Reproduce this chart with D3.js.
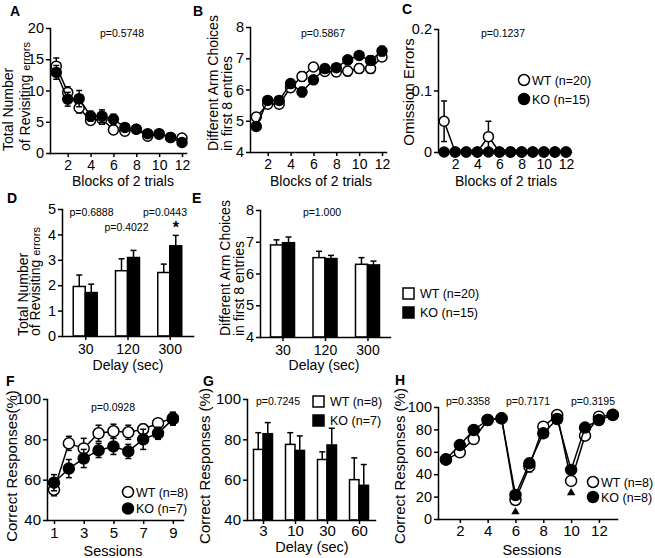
<!DOCTYPE html>
<html>
<head>
<meta charset="utf-8">
<script src="https://cdn.jsdelivr.net/npm/d3@7"></script>
<style>
body { margin: 0; background: #fff; }
svg { display: block; font-family: "Liberation Sans", Arial, sans-serif; }
</style>
</head>
<body>
<svg id="fig" width="655" height="558"></svg>
<script>
// ---- A/B/C : blocks of 2 trials
const blocks = [1, 2, 3, 4, 5, 6, 7, 8, 9, 10, 11, 12];
const revisitWT    = [13.9, 9.7, 7.2, 5.2, 5.4, 3.7, 3.5, 3.8, 2.7, 3.0, 2.5, 2.4];
const revisitWTErr = [1.3, 0.9, 0.8, 0.6, 0.8, 0.6, 0.4, 0.5, 0.4, 0.4, 0.3, 0.3];
const revisitKO    = [12.9, 8.6, 8.7, 5.9, 5.9, 5.4, 4.1, 3.8, 3.1, 3.1, 2.5, 1.7];
const revisitKOErr = [1.1, 1.1, 1.3, 0.8, 1.0, 0.8, 0.5, 0.5, 0.5, 0.5, 0.4, 0.4];

const choiceWT    = [5.12, 5.53, 5.53, 6.06, 6.42, 6.72, 6.58, 6.56, 6.59, 6.67, 6.67, 7.04];
const choiceWTErr = [0.12, 0.12, 0.1, 0.1, 0.15, 0.1, 0.12, 0.12, 0.15, 0.15, 0.15, 0.1];
const choiceKO    = [4.82, 5.65, 5.65, 6.19, 5.92, 6.31, 6.67, 6.7, 6.95, 7.09, 6.93, 7.23];
const choiceKOErr = [0.1, 0.1, 0.1, 0.1, 0.15, 0.08, 0.1, 0.12, 0.1, 0.1, 0.15, 0.15];

const omissionWT    = [0.05, 0, 0, 0, 0.025, 0, 0, 0, 0, 0, 0, 0];
const omissionWTErr = [0.033, 0, 0, 0, 0.025, 0, 0, 0, 0, 0, 0, 0];
const omissionKO    = [0, 0, 0, 0, 0, 0, 0, 0, 0, 0, 0, 0];
const omissionKOErr = [0, 0, 0, 0, 0, 0, 0, 0, 0, 0, 0, 0];

// ---- D/E : delay (sec), n=20 / n=15
const delays = ["30", "120", "300"];
const delayRevWT    = [1.95, 2.57, 2.5];
const delayRevWTErr = [0.45, 0.47, 0.33];
const delayRevKO    = [1.71, 3.09, 3.55];
const delayRevKOErr = [0.33, 0.28, 0.41];
const delayChoiceWT    = [6.9, 6.5, 6.29];
const delayChoiceWTErr = [0.16, 0.2, 0.21];
const delayChoiceKO    = [6.97, 6.47, 6.27];
const delayChoiceKOErr = [0.18, 0.1, 0.12];

// ---- F : sessions
const sessionsF = [1, 2, 3, 4, 5, 6, 7, 8, 9];
const correctWT    = [55, 78, 75.5, 83, 84, 83.5, 85, 88, 90.5];
const correctWTErr = [3, 3.5, 5, 4, 3.5, 3.5, 2.5, 2, 3];
const correctKO    = [58.5, 65.5, 70.5, 74.5, 76.5, 74, 80, 83, 90];
const correctKOErr = [4, 4.5, 4.5, 3.5, 4, 3.5, 5, 3, 3];

// ---- G : delay (sec), n=8 / n=7
const delaysG = ["3", "10", "30", "60"];
const delayCorrWT    = [75, 77.5, 70, 60];
const delayCorrWTErr = [8.3, 5.8, 3.8, 10.8];
const delayCorrKO    = [82.8, 74.5, 77.2, 57.2];
const delayCorrKOErr = [5.5, 7.2, 8.3, 10.3];

// ---- H : sessions with delay switches
const sessionsH = [1, 2, 3, 4, 5, 6, 7, 8, 9, 10, 11, 12, 13];
const switchWT    = [53, 59.5, 71.4, 88.4, 89.9, 17, 47, 82.4, 92.9, 34, 74.4, 91.4, 93];
const switchWTErr = [2, 2, 2, 2, 2, 3, 5, 2, 2, 3, 4, 2, 2];
const switchKO    = [53.3, 66, 79.5, 88.4, 89.9, 21.4, 49.7, 76.5, 89.3, 43.8, 81.6, 88.4, 92.9];
const switchKOErr = [2, 2, 2, 2, 2, 3, 3, 3, 2, 3, 2, 2, 2];
const switchSessions = [6, 10];

const svg = d3.select("#fig");
const black = "#000";

function styleAxis(g, fs) {
    g.selectAll("path, line").attr("stroke", black).attr("stroke-width", 1.5);
    g.selectAll("text").attr("font-size", fs).attr("fill", black);
    g.select(".domain").attr("stroke-linecap", "square");
}

function axes(g, x, y, o) {
    const xb = y.range()[0], yl = x.range()[0];
    g.append("g")
        .attr("transform", `translate(0,${xb})`)
        .call(d3.axisBottom(x).tickValues(o.xTicks).tickSize(4).tickPadding(o.xPad).tickSizeOuter(0))
        .call(a => styleAxis(a, o.xfs || 14));
    g.append("g")
        .attr("transform", `translate(${yl},0)`)
        .call(d3.axisLeft(y).tickValues(o.yTicks).tickFormat(o.yFmt || (d => d)).tickSize(4).tickPadding(2).tickSizeOuter(0))
        .call(a => styleAxis(a, o.yfs || 14.5));
}

function errBar(g, cx, yLo, yHi, cap) {
    g.append("line").attr("x1", cx).attr("x2", cx).attr("y1", yLo).attr("y2", yHi)
        .attr("stroke", black).attr("stroke-width", 1.5);
    g.append("line").attr("x1", cx - cap).attr("x2", cx + cap).attr("y1", yHi).attr("y2", yHi)
        .attr("stroke", black).attr("stroke-width", 1.5);
}

function linePanel(o) {
    const x = d3.scaleLinear().domain(o.xDom).range([o.left, o.right]);
    const y = d3.scaleLinear().domain(o.yDom).range([o.bottom, o.top]);
    const g = svg.append("g");
    axes(g, x, y, o);
    o.series.forEach(s => {
        const pts = o.xs.map((v, i) => ({x: v, y: s.values[i], e: s.err[i]}));
        const sg = g.append("g");
        pts.forEach(p => {
            if (p.e > 0) {
                errBar(sg, x(p.x), y(p.y), y(p.y + p.e), 3);
                errBar(sg, x(p.x), y(p.y), y(Math.max(o.yDom[0], p.y - p.e)), 3);
            }
        });
        sg.append("path").datum(pts)
            .attr("fill", "none").attr("stroke", black).attr("stroke-width", 1.5)
            .attr("d", d3.line().x(d => x(d.x)).y(d => y(d.y)));
        sg.selectAll("circle").data(pts).join("circle")
            .attr("cx", d => x(d.x)).attr("cy", d => y(d.y)).attr("r", o.r || 5)
            .attr("fill", s.fill).attr("stroke", black).attr("stroke-width", 1.5);
    });
    return {x, y, g};
}

function barPanel(o) {
    const x = d3.scalePoint().domain(o.groups).range([o.left, o.right]).padding(o.pad);
    const y = d3.scaleLinear().domain(o.yDom).range([o.bottom, o.top]);
    const g = svg.append("g");
    const bw = o.bw;
    o.series.forEach((s, k) => {
        o.groups.forEach((grp, i) => {
            const bx = x(grp) + (k === 0 ? -bw : 0);
            errBar(g, bx + bw / 2, y(s.values[i]), y(s.values[i] + s.err[i]), 3);
            g.append("rect")
                .attr("x", bx).attr("y", y(s.values[i]))
                .attr("width", bw).attr("height", y(o.yDom[0]) - y(s.values[i]))
                .attr("fill", s.fill).attr("stroke", black).attr("stroke-width", 1.5);
        });
    });
    axes(g, x, y, o);
    return {x, y, g};
}

function text(x, y, str, o = {}) {
    return svg.append("text")
        .attr("x", x).attr("y", y)
        .attr("font-size", o.fs || 13)
        .attr("font-weight", o.bold ? "bold" : null)
        .attr("text-anchor", o.anchor || "start")
        .attr("fill", black)
        .text(str);
}

function yTitle(x, y, str, o = {}) {
    const t = svg.append("text")
        .attr("transform", `translate(${x},${y}) rotate(-90)`)
        .attr("font-size", o.fs || 14)
        .attr("text-anchor", o.anchor || "start")
        .attr("fill", black);
    t.append("tspan").text(str);
    if (o.small) t.append("tspan").attr("font-size", 11).text(o.small);
    return t;
}

function circleLegend(x, y, gap, labels) {
    labels.forEach((lab, i) => {
        svg.append("circle").attr("cx", x).attr("cy", y + i * gap).attr("r", 5.5)
            .attr("fill", i === 0 ? "#fff" : black).attr("stroke", black).attr("stroke-width", 1.5);
        text(x + 8, y + i * gap + 4.5, lab, {fs: 12.5});
    });
}

function squareLegend(x, y, gap, labels) {
    labels.forEach((lab, i) => {
        svg.append("rect").attr("x", x).attr("y", y + i * gap).attr("width", 11).attr("height", 11)
            .attr("fill", i === 0 ? "#fff" : black).attr("stroke", black).attr("stroke-width", 1.5);
        text(x + 17, y + i * gap + 10, lab, {fs: 12.5});
    });
}

const wt = "#fff", ko = black;

// ---------- A
linePanel({
    left: 50, right: 186, bottom: 153, top: 28, xPad: 3,
    xDom: [0.45, 12.35], yDom: [0, 20],
    xTicks: [2, 4, 6, 8, 10, 12], yTicks: [0, 5, 10, 15, 20],
    xs: blocks,
    series: [{values: revisitWT, err: revisitWTErr, fill: wt}, {values: revisitKO, err: revisitKOErr, fill: ko}]
});
text(10, 16, "A", {bold: true, fs: 14});
text(122, 37, "p=0.5748", {fs: 10.5, anchor: "middle"});
text(123, 186, "Blocks of 2 trials", {fs: 14, anchor: "middle"});
yTitle(13, 151, "Total  Number");
yTitle(30, 151, "of Revisiting ", {small: "errors"});

// ---------- B
linePanel({
    left: 250, right: 386, bottom: 152, top: 27, xPad: 3,
    xDom: [0.45, 12.35], yDom: [4, 8],
    xTicks: [2, 4, 6, 8, 10, 12], yTicks: [4, 5, 6, 7, 8],
    xs: blocks,
    series: [{values: choiceWT, err: choiceWTErr, fill: wt}, {values: choiceKO, err: choiceKOErr, fill: ko}]
});
text(193, 16, "B", {bold: true, fs: 14});
text(323, 37, "p=0.5867", {fs: 10.5, anchor: "middle"});
text(321, 186, "Blocks of 2 trials", {fs: 14, anchor: "middle"});
yTitle(218, 151, "Different Arm Choices");
yTitle(232, 151, "in first 8 entries");

// ---------- C
linePanel({
    left: 438, right: 571, bottom: 152, top: 29, xPad: 3,
    xDom: [0.45, 12.45], yDom: [0, 0.2],
    xTicks: [2, 4, 6, 8, 10, 12], yTicks: [0, 0.1, 0.2],
    xs: blocks,
    series: [{values: omissionWT, err: omissionWTErr, fill: wt}, {values: omissionKO, err: omissionKOErr, fill: ko}]
});
text(402, 14, "C", {bold: true, fs: 14});
text(503, 37, "p=0.1237", {fs: 10.5, anchor: "middle"});
text(506, 186, "Blocks of 2 trials", {fs: 14, anchor: "middle"});
yTitle(414, 92, "Omission Errors", {anchor: "middle", fs: 15});
circleLegend(524, 80, 19, ["WT (n=20)", "KO (n=15)"]);

// ---------- D
const pD = barPanel({
    left: 62, right: 193, bottom: 336, top: 209, xPad: 4,
    groups: delays, pad: 0.55, bw: 12, yDom: [0, 5],
    xTicks: delays, yTicks: [0, 1, 2, 3, 4, 5],
    series: [{values: delayRevWT, err: delayRevWTErr, fill: wt}, {values: delayRevKO, err: delayRevKOErr, fill: ko}]
});
text(7, 203, "D", {bold: true, fs: 14});
text(91.5, 216, "p=0.6888", {fs: 10.5, anchor: "middle"});
text(126.5, 231, "p=0.4022", {fs: 10.5, anchor: "middle"});
text(165, 216, "p=0.0443", {fs: 10.5, anchor: "middle"});
text(pD.x("300") + 6, pD.y(delayRevKO[2] + delayRevKOErr[2]) - 2, "*", {fs: 16, anchor: "middle", bold: true});
text(128, 370, "Delay (sec)", {fs: 14, anchor: "middle"});
yTitle(28, 336, "Total  Number");
yTitle(40, 336, "of Revisiting ", {small: "errors"});

// ---------- E
barPanel({
    left: 260, right: 390, bottom: 337, top: 210, xPad: 4,
    groups: delays, pad: 0.53, bw: 12, yDom: [4, 8],
    xTicks: delays, yTicks: [4, 5, 6, 7, 8],
    series: [{values: delayChoiceWT, err: delayChoiceWTErr, fill: wt}, {values: delayChoiceKO, err: delayChoiceKOErr, fill: ko}]
});
text(192, 203, "E", {bold: true, fs: 14});
text(322, 216, "p=1.000", {fs: 10.5, anchor: "middle"});
text(324, 370, "Delay (sec)", {fs: 14, anchor: "middle"});
yTitle(230, 336, "Different Arm Choices");
yTitle(244, 336, "in first 8 entries");
squareLegend(403, 288, 19, ["WT (n=20)", "KO (n=15)"]);

// ---------- F
linePanel({
    left: 47, right: 183, bottom: 520, top: 399,
    xDom: [0.53, 9.68], yDom: [40, 100], r: 5.5, xfs: 15, yfs: 15, xPad: 3,
    xTicks: [1, 3, 5, 7, 9], yTicks: [40, 60, 80, 100],
    xs: sessionsF,
    series: [{values: correctWT, err: correctWTErr, fill: wt}, {values: correctKO, err: correctKOErr, fill: ko}]
});
text(6, 386, "F", {bold: true, fs: 14});
text(113, 411, "p=0.0928", {fs: 10.5, anchor: "middle"});
text(113, 556, "Sessions", {fs: 14.5, anchor: "middle"});
yTitle(17, 466, "Correct Responses(%)", {anchor: "middle", fs: 15});
circleLegend(128, 492, 16.5, ["WT (n=8)", "KO (n=7)"]);

// ---------- G
barPanel({
    left: 247, right: 375, bottom: 520, top: 399,
    groups: delaysG, pad: 0.5, bw: 9.5, yDom: [40, 100], xfs: 15, yfs: 15, xPad: 1,
    xTicks: delaysG, yTicks: [40, 60, 80, 100],
    series: [{values: delayCorrWT, err: delayCorrWTErr, fill: wt}, {values: delayCorrKO, err: delayCorrKOErr, fill: ko}]
});
text(203, 386, "G", {bold: true, fs: 14});
text(278, 405, "p=0.7245", {fs: 10.5, anchor: "middle"});
text(312, 552, "Delay (sec)", {fs: 14.5, anchor: "middle"});
yTitle(210, 466, "Correct Responses (%)", {anchor: "middle", fs: 15});
squareLegend(313, 396, 19, ["WT (n=8)", "KO (n=7)"]);

// ---------- H
const pH = linePanel({
    left: 438, right: 617, bottom: 519, top: 407,
    xDom: [0.43, 13.3], yDom: [0, 100], r: 5.5, xfs: 15, yfs: 14.5, xPad: 2,
    xTicks: [2, 4, 6, 8, 10, 12], yTicks: [0, 20, 40, 60, 80, 100],
    xs: sessionsH,
    series: [{values: switchWT, err: switchWTErr, fill: wt}, {values: switchKO, err: switchKOErr, fill: ko}]
});
text(395, 385, "H", {bold: true, fs: 14});
text(468, 405, "p=0.3358", {fs: 10.5, anchor: "middle"});
text(528, 405, "p=0.7171", {fs: 10.5, anchor: "middle"});
text(593, 405, "p=0.3195", {fs: 10.5, anchor: "middle"});
text(532, 555, "Sessions", {fs: 14.5, anchor: "middle"});
yTitle(405, 466, "Correct Responses (%)", {anchor: "middle", fs: 15});
circleLegend(593, 482, 15, ["WT (n=8)", "KO (n=8)"]);

// arrowheads under the delay-switch sessions
switchSessions.forEach(s => {
    const i = sessionsH.indexOf(s);
    const lo = Math.min(switchWT[i], switchKO[i]);
    svg.append("path")
        .attr("transform", `translate(${pH.x(s)},${pH.y(lo) + 12})`)
        .attr("d", d3.symbol(d3.symbolTriangle, 30)())
        .attr("fill", black);
});
</script>
</body>
</html>
